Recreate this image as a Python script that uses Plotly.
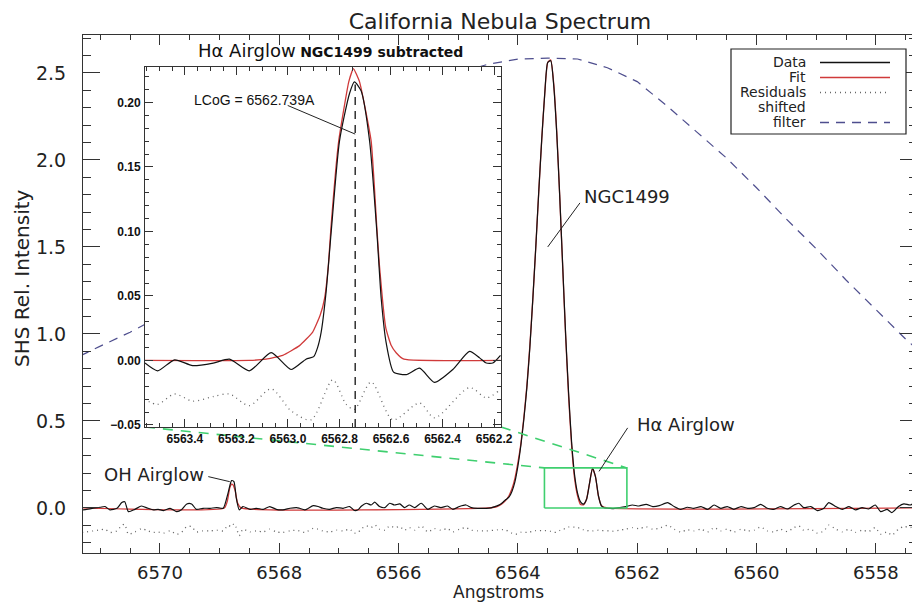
import plotly.graph_objects as go

# ---------------- main spectrum (Angstroms, rel. intensity) ----------------
wl_data = [
    6557.33, 6557.42, 6557.53, 6557.62, 6557.73, 6557.81, 6557.92, 6558.01, 6558.12, 6558.23,
    6558.34, 6558.45, 6558.56, 6558.67, 6558.79, 6558.87, 6558.98, 6559.09, 6559.21, 6559.29,
    6559.37, 6559.48, 6559.60, 6559.71, 6559.82, 6559.93, 6560.04, 6560.15, 6560.26, 6560.38,
    6560.49, 6560.60, 6560.71, 6560.82, 6560.93, 6561.05, 6561.16, 6561.27, 6561.38, 6561.49,
    6561.63, 6561.74, 6561.85, 6561.97, 6562.08, 6562.19, 6562.30, 6562.40, 6562.47, 6562.55,
    6562.60, 6562.65, 6562.70, 6562.75, 6562.80, 6562.85, 6562.90, 6562.95, 6563.00, 6563.05,
    6563.10, 6563.15, 6563.20, 6563.25, 6563.30, 6563.35, 6563.40, 6563.45, 6563.50, 6563.55,
    6563.60, 6563.65, 6563.70, 6563.75, 6563.80, 6563.85, 6563.90, 6563.95, 6564.00, 6564.05,
    6564.10, 6564.15, 6564.20, 6564.25, 6564.30, 6564.35, 6564.40, 6564.45, 6564.53, 6564.67,
    6564.78, 6564.87, 6564.98, 6565.09, 6565.18, 6565.29, 6565.40, 6565.51, 6565.62, 6565.73,
    6565.82, 6565.90, 6565.98, 6566.07, 6566.15, 6566.23, 6566.32, 6566.40, 6566.46, 6566.54,
    6566.62, 6566.68, 6566.74, 6566.82, 6566.93, 6567.04, 6567.16, 6567.27, 6567.35, 6567.43,
    6567.57, 6567.66, 6567.71, 6567.82, 6567.94, 6568.05, 6568.16, 6568.27, 6568.38, 6568.49,
    6568.61, 6568.67, 6568.72, 6568.76, 6568.80, 6568.86, 6568.94, 6569.05, 6569.16, 6569.28,
    6569.39, 6569.47, 6569.55, 6569.64, 6569.72, 6569.83, 6569.94, 6570.03, 6570.11, 6570.20,
    6570.31, 6570.42, 6570.53, 6570.59, 6570.64, 6570.72, 6570.84, 6570.92, 6571.00, 6571.12,
    6571.23, 6571.29]
flux_data = [
    0.036, 0.017, 0.023, 0.008, -0.027, -0.008, -0.021, 0.017, -0.006, 0.002,
    -0.011, 0.008, -0.008, 0.008, 0.031, -0.002, -0.015, 0.008, 0.002, 0.027,
    0.017, -0.006, 0.008, -0.008, -0.002, 0.021, 0.002, -0.002, 0.008, -0.008,
    0.008, -0.002, 0.017, -0.008, 0.008, -0.002, 0.004, -0.008, 0.008, 0.031,
    0.013, 0.008, 0.021, 0.011, 0.017, 0.008, 0.002, -0.004, -0.002, 0.000,
    0.012, 0.070, 0.180, 0.226, 0.140, 0.048, 0.022, 0.035, 0.085, 0.19,
    0.38, 0.66, 1.00, 1.40, 1.80, 2.16, 2.43, 2.57, 2.56, 2.38,
    2.12, 1.82, 1.50, 1.20, 0.92, 0.69, 0.51, 0.36, 0.24, 0.15,
    0.095, 0.062, 0.048, 0.033, 0.020, 0.012, 0.006, 0.000, -0.002, -0.002,
    0.002, 0.017, 0.008, -0.008, 0.011, 0.002, 0.011, -0.008, 0.027, 0.002,
    0.017, 0.002, 0.023, 0.017, 0.027, 0.002, 0.008, 0.033, 0.017, 0.027,
    0.011, -0.011, -0.015, 0.008, -0.002, 0.002, -0.008, -0.002, 0.008, 0.013,
    -0.011, -0.002, 0.002, -0.002, -0.011, -0.008, 0.008, -0.008, -0.002, -0.008,
    0.008, -0.011, 0.056, 0.151, 0.157, 0.084, -0.002, 0.002, -0.002, -0.002,
    -0.008, 0.023, 0.023, -0.011, -0.021, -0.002, -0.015, -0.008, -0.011, -0.002,
    0.011, -0.008, -0.021, 0.036, 0.031, -0.002, -0.011, 0.008, 0.004, -0.002,
    -0.008, -0.011]
resid_shifted = [
    -0.094, -0.113, -0.107, -0.122, -0.157, -0.138, -0.151, -0.113, -0.136, -0.128,
    -0.141, -0.122, -0.138, -0.122, -0.099, -0.132, -0.145, -0.122, -0.128, -0.103,
    -0.113, -0.136, -0.122, -0.138, -0.132, -0.109, -0.128, -0.132, -0.122, -0.138,
    -0.122, -0.132, -0.113, -0.138, -0.122, -0.132, -0.126, -0.138, -0.122, -0.099,
    -0.117, -0.122, -0.109, -0.119, -0.113, -0.122, -0.128, -0.134, -0.132, -0.130,
    -0.131, -0.128, -0.130, -0.132, -0.130, -0.132, -0.126, -0.115, -0.115, -0.110,
    -0.110, -0.110, -0.120, -0.120, -0.130, -0.140, -0.140, -0.135, -0.130, -0.130,
    -0.130, -0.130, -0.130, -0.130, -0.140, -0.140, -0.140, -0.140, -0.150, -0.150,
    -0.145, -0.138, -0.127, -0.125, -0.126, -0.126, -0.128, -0.130, -0.132, -0.132,
    -0.128, -0.113, -0.122, -0.138, -0.119, -0.128, -0.119, -0.138, -0.103, -0.128,
    -0.113, -0.128, -0.107, -0.113, -0.103, -0.128, -0.122, -0.097, -0.113, -0.103,
    -0.119, -0.141, -0.145, -0.122, -0.132, -0.128, -0.138, -0.132, -0.122, -0.117,
    -0.141, -0.132, -0.128, -0.132, -0.141, -0.138, -0.122, -0.138, -0.132, -0.138,
    -0.122, -0.160, -0.114, -0.090, -0.108, -0.100, -0.132, -0.128, -0.132, -0.132,
    -0.138, -0.107, -0.107, -0.141, -0.151, -0.132, -0.145, -0.138, -0.141, -0.132,
    -0.119, -0.138, -0.151, -0.094, -0.099, -0.132, -0.141, -0.122, -0.126, -0.132,
    -0.138, -0.141]

wl_fit = [
    6557.30, 6562.50, 6562.60, 6562.65, 6562.70, 6562.75, 6562.80, 6562.85, 6562.90, 6562.95,
    6563.00, 6563.05, 6563.10, 6563.15, 6563.20, 6563.25, 6563.30, 6563.35, 6563.40, 6563.45,
    6563.50, 6563.55, 6563.60, 6563.65, 6563.70, 6563.75, 6563.80, 6563.85, 6563.90, 6563.95,
    6564.00, 6564.05, 6564.10, 6564.15, 6564.20, 6564.25, 6564.30, 6564.35, 6564.40, 6564.50,
    6568.64, 6568.70, 6568.74, 6568.78, 6568.80, 6568.83, 6568.87, 6568.92, 6571.30]
flux_fit = [
    0.0, 0.0, 0.013, 0.068, 0.180, 0.228, 0.140, 0.050, 0.018, 0.020,
    0.070, 0.170, 0.360, 0.640, 0.990, 1.390, 1.800, 2.170, 2.440, 2.575,
    2.560, 2.380, 2.120, 1.820, 1.500, 1.200, 0.930, 0.700, 0.520, 0.370,
    0.260, 0.170, 0.110, 0.070, 0.045, 0.028, 0.016, 0.008, 0.004, 0.0,
    0.0, 0.030, 0.100, 0.135, 0.137, 0.115, 0.040, 0.0, 0.0]

wl_filter = [
    6557.3, 6557.5, 6558.0, 6558.5, 6559.0, 6559.5, 6560.0, 6560.5, 6561.0, 6561.5,
    6562.0, 6562.5, 6563.0, 6563.5, 6564.0, 6564.5, 6565.0, 6565.5, 6566.0, 6566.5,
    6567.0, 6567.5, 6568.0, 6568.5, 6569.0, 6569.5, 6570.0, 6570.5, 6571.0, 6571.3]
filter_curve = [
    0.91, 0.97, 1.14, 1.31, 1.49, 1.66, 1.84, 2.01, 2.16, 2.31,
    2.45, 2.53, 2.58, 2.585, 2.58, 2.55, 2.50, 2.42, 2.31, 2.18,
    2.03, 1.87, 1.70, 1.53, 1.37, 1.22, 1.10, 1.01, 0.93, 0.88]

# ---------------- inset: H-alpha airglow, NGC1499 subtracted ----------------
wl_inset = [
    6562.175, 6562.205, 6562.230, 6562.256, 6562.295, 6562.360, 6562.431, 6562.489, 6562.541, 6562.590,
    6562.619, 6562.638, 6562.655, 6562.683, 6562.716, 6562.742, 6562.761, 6562.800, 6562.832, 6562.852,
    6562.871, 6562.885, 6562.900, 6562.930, 6562.988, 6563.065, 6563.150, 6563.227, 6563.290, 6563.370,
    6563.440, 6563.506, 6563.555]
flux_inset = [
    0.004, -0.002, -0.002, 0.002, 0.007, -0.007, -0.017, -0.006, -0.011, -0.009,
    0.014, 0.048, 0.100, 0.170, 0.209, 0.216, 0.207, 0.170, 0.100, 0.053,
    0.022, 0.010, 0.003, 0.001, -0.007, 0.006, -0.008, 0.001, -0.002, -0.004,
    0.0005, -0.008, -0.002]
wl_inset_fit = [
    6562.175, 6562.550, 6562.580, 6562.600, 6562.620, 6562.645, 6562.655, 6562.677, 6562.722, 6562.746,
    6562.764, 6562.803, 6562.833, 6562.843, 6562.858, 6562.875, 6562.904, 6562.955, 6563.020, 6563.085,
    6563.150, 6563.555]
flux_inset_fit = [
    0.0, 0.001, 0.006, 0.012, 0.025, 0.074, 0.103, 0.170, 0.216, 0.2263,
    0.216, 0.170, 0.103, 0.074, 0.048, 0.035, 0.022, 0.0115, 0.004, 0.001,
    0.0, 0.0]
wl_inset_res = [
    6562.185, 6562.230, 6562.295, 6562.431, 6562.489, 6562.593, 6562.677, 6562.742, 6562.774, 6562.826,
    6562.910, 6562.988, 6563.065, 6563.150, 6563.227, 6563.290, 6563.370, 6563.440, 6563.506, 6563.557]
resid_inset = [
    -0.024, -0.029, -0.021, -0.0445, -0.033, -0.046, -0.0167, -0.038, -0.034, -0.015,
    -0.046, -0.039, -0.022, -0.035, -0.026, -0.028, -0.0315, -0.026, -0.034, -0.030]
lcog = 6562.739
lcog_peak = 0.214

# ---------------- axes ranges / layout constants ----------------
X_MAIN = [6571.29, 6557.31]
Y_MAIN = [-0.259, 2.718]
X_INSET = [6563.555, 6562.173]
Y_INSET = [-0.0516, 0.2275]
INSET_DOM_X = [0.0743, 0.5012]
INSET_DOM_Y = [0.2432, 0.9382]
BOX_Y = [0.0, 0.23]

# the page body adds an 8 px offset; the figure is sized so the plot area lands at
# x 83..917, y 35..553 of the 920x604 window
PAGE_OFF = 8
FIG_W, FIG_H = 920 - PAGE_OFF, 604 - PAGE_OFF

FONT = "DejaVu Sans"
GREEN = "#3fcf6f"
RED = "#d03a3a"
FILTER_C = "#4e4e8e"

fig = go.Figure()

# main panel traces
fig.add_trace(go.Scatter(x=wl_filter, y=filter_curve, mode="lines",
                         line=dict(color=FILTER_C, width=1.2, dash="9px,7px")))
fig.add_trace(go.Scatter(x=wl_data, y=resid_shifted, mode="lines",
                         line=dict(color="#666666", width=1.3, dash="1px,4px", shape="spline", smoothing=0.6)))
fig.add_trace(go.Scatter(x=wl_fit, y=flux_fit, mode="lines",
                         line=dict(color=RED, width=1.3, shape="spline", smoothing=0.5)))
fig.add_trace(go.Scatter(x=wl_data, y=flux_data, mode="lines",
                         line=dict(color="#111111", width=1.2, shape="spline", smoothing=0.6)))

# zoom box (the inset's range) + connecting dashed lines
fig.add_trace(go.Scatter(x=[X_INSET[0], X_INSET[1], X_INSET[1], X_INSET[0], X_INSET[0]],
                         y=[BOX_Y[0], BOX_Y[0], BOX_Y[1], BOX_Y[1], BOX_Y[0]],
                         mode="lines", line=dict(color=GREEN, width=1.6)))


def main_x(frac):
    return X_MAIN[0] + (X_MAIN[1] - X_MAIN[0]) * frac


def main_y(frac):
    return Y_MAIN[0] + (Y_MAIN[1] - Y_MAIN[0]) * frac


corner_y = main_y(INSET_DOM_Y[0])
fig.add_trace(go.Scatter(x=[main_x(INSET_DOM_X[0]), X_INSET[0]], y=[corner_y, BOX_Y[1]],
                         mode="lines", line=dict(color=GREEN, width=1.6, dash="10px,8px")))
fig.add_trace(go.Scatter(x=[main_x(INSET_DOM_X[1]), X_INSET[1]], y=[corner_y, BOX_Y[1]],
                         mode="lines", line=dict(color=GREEN, width=1.6, dash="10px,8px")))

# inset traces
fig.add_trace(go.Scatter(x=wl_inset_res, y=resid_inset, mode="lines", xaxis="x2", yaxis="y2",
                         line=dict(color="#666666", width=1.3, dash="1px,4px", shape="spline", smoothing=0.8)))
fig.add_trace(go.Scatter(x=wl_inset_fit, y=flux_inset_fit, mode="lines", xaxis="x2", yaxis="y2",
                         line=dict(color=RED, width=1.3, shape="spline", smoothing=0.4)))
fig.add_trace(go.Scatter(x=wl_inset, y=flux_inset, mode="lines", xaxis="x2", yaxis="y2",
                         line=dict(color="#111111", width=1.2, shape="spline", smoothing=0.6)))
fig.add_trace(go.Scatter(x=[lcog, lcog], y=[Y_INSET[0], lcog_peak], mode="lines", xaxis="x2", yaxis="y2",
                         line=dict(color="#111111", width=1.3, dash="8px,6px")))

axis_common = dict(showline=True, linecolor="#333333", linewidth=1, mirror="ticks",
                   ticks="inside", showgrid=False, zeroline=False, tickcolor="#333333",
                   automargin=False)

fig.update_layout(
    width=FIG_W, height=FIG_H,
    margin=dict(l=83 - PAGE_OFF, r=3, t=35 - PAGE_OFF, b=51, autoexpand=False),
    paper_bgcolor="white", plot_bgcolor="white",
    showlegend=False,
    font=dict(family=FONT, color="#222222"),
    title=dict(text="California Nebula Spectrum", x=0.5, xref="paper", xanchor="center",
               y=1 - (21 - PAGE_OFF) / FIG_H, yref="container", yanchor="middle",
               font=dict(size=22, family=FONT, color="#222222")),
    xaxis=dict(range=X_MAIN, dtick=2, tick0=6558, ticklen=10, tickwidth=1,
               tickfont=dict(size=18, family=FONT, color="#222222"), ticklabelstandoff=3,
               minor=dict(dtick=0.5, ticklen=5, ticks="inside", tickcolor="#333333", showgrid=False),
               **axis_common),
    yaxis=dict(range=Y_MAIN, dtick=0.5, tick0=0, ticklen=17, tickwidth=1, tickformat=".1f",
               tickfont=dict(size=19, family=FONT, color="#222222"), ticklabelstandoff=12,
               minor=dict(dtick=0.1, ticklen=8, ticks="inside", tickcolor="#333333", showgrid=False),
               **axis_common),
    xaxis2=dict(domain=INSET_DOM_X, anchor="y2", range=X_INSET, dtick=0.2, tick0=6562.2,
                tickformat=".1f", ticklen=8, tickwidth=1,
                tickfont=dict(size=12, family="Liberation Sans", color="#111111", weight="bold"),
                ticklabelstandoff=1,
                minor=dict(dtick=0.05, ticklen=4, ticks="inside", tickcolor="#333333", showgrid=False),
                **axis_common),
    yaxis2=dict(domain=INSET_DOM_Y, anchor="x2", range=Y_INSET, dtick=0.05, tick0=0,
                tickformat=".2f", ticklen=8, tickwidth=1,
                tickfont=dict(size=12, family="Liberation Sans", color="#111111", weight="bold"),
                ticklabelstandoff=1,
                minor=dict(dtick=0.01, ticklen=4, ticks="inside", tickcolor="#333333", showgrid=False),
                **axis_common),
)

ann = []
shapes = []


def px_x(p):
    return (p - 83) / 834


def px_y(p):
    return (553 - p) / 518


# axis titles
ann.append(dict(text="Angstroms", x=px_x(498), y=px_y(592), xref="paper", yref="paper", showarrow=False,
                xanchor="center", yanchor="middle", font=dict(size=17, family=FONT, color="#222222")))
ann.append(dict(text="SHS Rel. Intensity", x=px_x(22), y=px_y(278), xref="paper", yref="paper", showarrow=False,
                textangle=-90, xanchor="center", yanchor="middle", font=dict(size=20, family=FONT, color="#222222")))
# inset title
ann.append(dict(text="<span style='font-size:18px'>H\u03b1 Airglow</span> <b>NGC1499 subtracted</b>",
                x=px_x(330), y=px_y(50), xref="paper", yref="paper", showarrow=False,
                xanchor="center", yanchor="middle", font=dict(size=14, family=FONT, color="#111111")))
# line labels in the main panel
ann.append(dict(text="NGC1499", x=6562.93, y=1.79, xref="x", yref="y", showarrow=False,
                xanchor="left", yanchor="middle", font=dict(size=18, family=FONT, color="#222222")))
ann.append(dict(text="H\u03b1 Airglow", x=6562.04, y=0.477, xref="x", yref="y", showarrow=False,
                xanchor="left", yanchor="middle", font=dict(size=18, family=FONT, color="#222222")))
ann.append(dict(text="OH Airglow", x=6569.22, y=0.19, xref="x", yref="y", showarrow=False,
                xanchor="right", yanchor="middle", font=dict(size=18, family=FONT, color="#222222")))
ann.append(dict(text="LCoG = 6562.739A", x=6563.13, y=0.2016, xref="x2", yref="y2", showarrow=False,
                xanchor="center", yanchor="middle", font=dict(size=14, family="Liberation Sans", color="#111111")))

shapes.append(dict(type="line", xref="x", yref="y", x0=6562.96, y0=1.753, x1=6563.50, y1=1.50,
                   line=dict(color="#222222", width=1)))
shapes.append(dict(type="line", xref="x", yref="y", x0=6562.16, y0=0.46, x1=6562.64, y1=0.21,
                   line=dict(color="#222222", width=1)))
shapes.append(dict(type="line", xref="x", yref="y", x0=6569.19, y0=0.18, x1=6568.83, y1=0.151,
                   line=dict(color="#222222", width=1)))
shapes.append(dict(type="line", xref="x2", yref="y2", x0=6563.001, y0=0.1977, x1=lcog, y1=0.1755,
                   line=dict(color="#222222", width=1)))

# legend box (text on the left, sample line on the right)
shapes.append(dict(type="rect", xref="paper", yref="paper", x0=px_x(731), x1=px_x(906),
                   y0=px_y(134), y1=px_y(49), line=dict(color="#222222", width=1.2), fillcolor="white"))
legend_rows = [("Data", "#111111", "solid"), ("Fit", RED, "solid"), ("Residuals", "#666666", "1px,4px"),
               ("shifted", None, None), ("filter", FILTER_C, "9px,7px")]
row_y = [62, 77, 92, 107, 122]
for (label, col, dash), ry in zip(legend_rows, row_y):
    ann.append(dict(text=label, x=px_x(808), y=px_y(ry), xref="paper", yref="paper", showarrow=False,
                    xanchor="right", yanchor="middle", font=dict(size=14, family=FONT, color="#222222")))
    if col:
        shapes.append(dict(type="line", xref="paper", yref="paper", x0=px_x(820), x1=px_x(890),
                           y0=px_y(ry + 0.5), y1=px_y(ry + 0.5), line=dict(color=col, width=1.3, dash=dash)))

fig.update_layout(annotations=ann, shapes=shapes)
fig.write_html("out.html")
